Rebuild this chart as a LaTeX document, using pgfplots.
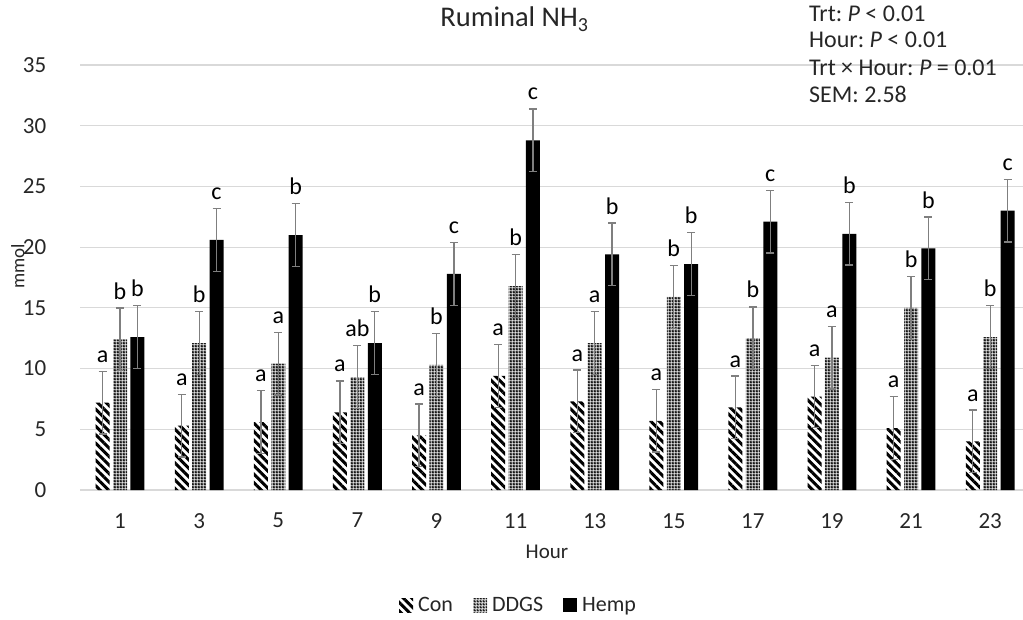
\documentclass[border=0pt]{standalone}
\usepackage{fontspec}
\setmainfont{Carlito}
\usepackage{pgfplots}
\pgfplotsset{compat=1.18}
\usepackage{pgfplotstable}
\usetikzlibrary{patterns,patterns.meta}
\frenchspacing

\definecolor{gridgray}{HTML}{D9D9D9}
\definecolor{errgray}{HTML}{7F7F7F}

\pgfdeclarepatternformonly{checker}{\pgfpointorigin}{\pgfqpoint{3pt}{3pt}}{\pgfqpoint{3pt}{3pt}}{%
  \pgfseteorule
  \pgfpathrectangle{\pgfpointorigin}{\pgfqpoint{3pt}{3pt}}%
  \pgfpathrectangle{\pgfqpoint{0.75pt}{0.75pt}}{\pgfqpoint{1.5pt}{1.5pt}}%
  \pgfusepath{fill}}

\pgfplotstableread{
x  con ddgs hemp cl dl hl
1  7.2 12.4 12.6 a b  b
3  5.3 12.1 20.6 a b  c
5  5.6 10.4 21.0 a a  b
7  6.4 9.3  12.1 a ab b
9  4.5 10.3 17.8 a b  c
11 9.4 16.8 28.8 a b  c
13 7.3 12.1 19.4 a a  b
15 5.7 15.9 18.6 a b  b
17 6.8 12.5 22.1 a b  c
19 7.7 10.9 21.1 a a  b
21 5.1 15.0 19.9 a b  b
23 4.0 12.6 23.0 a b  c
}\data

\pgfplotsset{
  myicon/.style={legend image code/.code={\path[##1, draw=none] (0pt,-7pt) rectangle (14pt,7pt);}},
  myerr/.style={error bars/.cd, y dir=both, y fixed=2.58,
     error bar style={line width=1.3pt, color=errgray, solid},
     error mark options={rotate=90, mark size=4pt, line width=1.3pt, color=errgray}},
  mylab/.style={forget plot, only marks, mark=none, point meta=explicit symbolic,
     nodes near coords,
     every node near coord/.append style={font=\fontsize{24}{28}\selectfont, anchor=base, inner sep=0pt, yshift=9pt, text=black}},
}

\begin{document}
\begin{tikzpicture}
\begin{axis}[
  at={(0pt,0pt)}, anchor=south west,
  scale only axis, width=943.3pt, height=425pt,
  xmin=0, xmax=23.85, ymin=0, ymax=35,
  xtick={1,3,...,23}, ytick={0,5,...,35},
  ymajorgrids, grid style={line width=1.2pt, color=gridgray},
  axis line style={draw=none},
  major tick length=0pt,
  tick label style={font=\fontsize{23}{27}\selectfont, text=black!85},
  /pgf/number format/assume math mode=true,
  yticklabel style={inner sep=0pt, xshift=-34pt},
  xticklabel style={inner sep=0pt, yshift=-23pt},
  title={Ruminal NH\textsubscript{3}},
  title style={at={(axis description cs:0.460,1.0753)}, anchor=base, font=\fontsize{28.5}{32}\selectfont, text=black!85, inner sep=0pt},
  xlabel={Hour},
  xlabel style={at={(axis description cs:0.4945,-0.16)}, anchor=base, font=\fontsize{21}{25}\selectfont, text=black!85, inner sep=0pt},
  ylabel={mmol},
  ylabel style={at={(axis description cs:-0.0663,0.527)}, anchor=center, font=\fontsize{19}{23}\selectfont, text=black!85, inner sep=0pt},
  legend columns=3,
  legend style={at={(axis description cs:0.4633,-0.2706)}, anchor=center, draw=none, fill=none,
     font=\fontsize{22}{26}\selectfont, text=black!85, inner sep=0pt,
     nodes={inner sep=0pt},
     /tikz/every odd column/.append style={column sep=5pt},
     /tikz/every even column/.append style={column sep=20pt}},
]
\addplot[ybar, bar width=14pt, bar shift=0pt, draw=none,
   pattern={Lines[angle=-45, distance=6pt, line width=3pt]}, pattern color=black, myicon, myerr]
   table[x expr=\thisrow{x}-0.44, y=con] {\data};
\addlegendentry{Con}
\addplot[ybar, bar width=14pt, bar shift=0pt, draw=none,
   pattern=checker, pattern color=black, myicon, myerr]
   table[x=x, y=ddgs] {\data};
\addlegendentry{DDGS}
\addplot[ybar, bar width=14pt, bar shift=0pt, draw=none, fill=black, myicon, myerr]
   table[x expr=\thisrow{x}+0.44, y=hemp] {\data};
\addlegendentry{Hemp}

\addplot[mylab] table[x expr=\thisrow{x}-0.44, y expr=\thisrow{con}+2.58, meta=cl] {\data};
\addplot[mylab] table[x expr=\thisrow{x}, y expr=\thisrow{ddgs}+2.58, meta=dl] {\data};
\addplot[mylab] table[x expr=\thisrow{x}+0.44, y expr=\thisrow{hemp}+2.58, meta=hl] {\data};
\end{axis}
\begin{scope}[every node/.style={anchor=base west, inner sep=0pt, font=\fontsize{24}{28}\selectfont, text=black!85}]
\node at (728.5pt,468pt) {Trt: \textit{P} < 0.01};
\node at (728.5pt,442pt) {Hour: \textit{P} < 0.01};
\node at (728.5pt,414pt) {Trt × Hour: \textit{P} = 0.01};
\node at (728.5pt,387pt) {SEM: 2.58};
\end{scope}
\pgfresetboundingbox
\useasboundingbox (-80.5pt,-129pt) rectangle (942.5pt,490pt);
\end{tikzpicture}
\end{document}
